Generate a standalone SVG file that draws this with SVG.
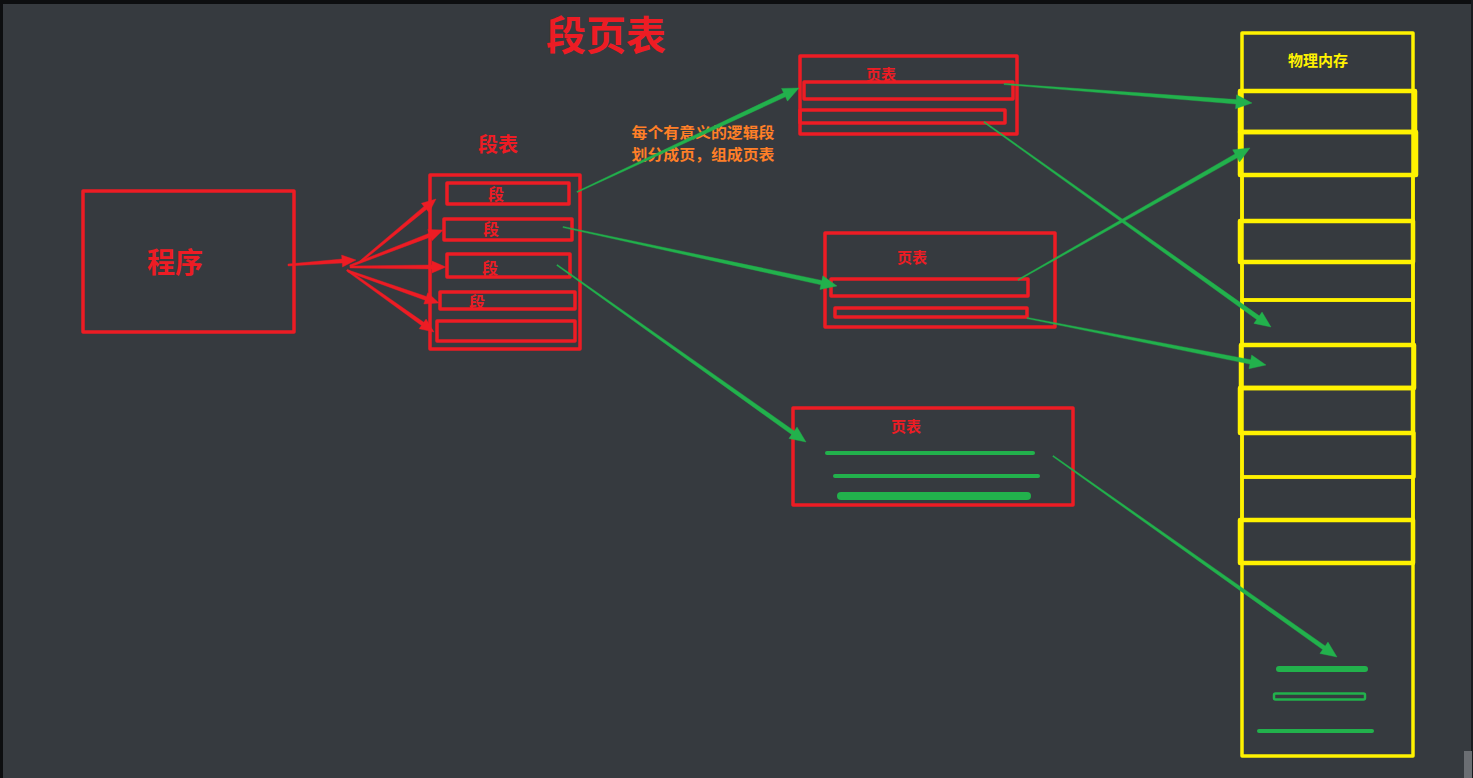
<svg xmlns="http://www.w3.org/2000/svg" width="1473" height="778" viewBox="0 0 1473 778">
<defs>
<style>
.bg{fill:#363a3f}
.r{fill:none;stroke:#ed1c24;stroke-width:3.5;stroke-linejoin:round}
.y{fill:none;stroke:#fff200;stroke-width:3.5;stroke-linejoin:round}
.y4{fill:none;stroke:#fff200;stroke-width:4.5;stroke-linejoin:round}
.t{font-family:"Noto Sans CJK SC","Noto Sans",sans-serif;font-weight:bold;text-anchor:middle;dominant-baseline:central}
.tr{fill:#ed1c24}
.ty{fill:#fff200}
.to{fill:#ff7f27}
.ga{fill:#22b14c;stroke:#22b14c;stroke-width:0.4;stroke-linejoin:round}
.ra{fill:#ed1c24;stroke:#ed1c24;stroke-width:0.4;stroke-linejoin:round}
.gbar{stroke:#22b14c;stroke-linecap:round}
</style>
</defs>
<rect class="bg" x="0" y="0" width="1473" height="778"/>
<rect x="0" y="0" width="1473" height="4" fill="#0d0e10"/>
<rect x="0" y="0" width="3" height="778" fill="#0d0e10"/>
<rect x="1471" y="0" width="2" height="778" fill="#1a1c1f"/>
<rect x="1464" y="751" width="8" height="27" fill="#6b6e73"/>

<text class="t tr" x="606" y="33" font-size="40">段页表</text>

<g id="program">
<rect class="r" x="83" y="191" width="211" height="141"/>
<text class="t tr" x="175" y="261" font-size="28">程序</text>
</g>

<g id="segment-table">
<text class="t tr" x="498" y="143" font-size="20">段表</text>
<rect class="r" x="430" y="175" width="150" height="174"/>
<rect class="r" x="447" y="183" width="122" height="21"/>
<text class="t tr" x="496" y="193" font-size="16">段</text>
<rect class="r" x="444" y="219" width="128" height="21"/>
<text class="t tr" x="491" y="228" font-size="16">段</text>
<rect class="r" x="447" y="254" width="123" height="23"/>
<text class="t tr" x="490" y="267" font-size="16">段</text>
<rect class="r" x="440" y="292" width="135" height="17"/>
<text class="t tr" x="477" y="301" font-size="16">段</text>
<rect class="r" x="437" y="321" width="138" height="20"/>
</g>

<g id="note">
<text class="t to" x="703" y="131" font-size="15" textLength="143" lengthAdjust="spacingAndGlyphs">每个有意义的逻辑段</text>
<text class="t to" x="703" y="153" font-size="15" textLength="143" lengthAdjust="spacingAndGlyphs">划分成页，组成页表</text>
</g>

<g id="page-table-1">
<rect class="r" x="800" y="56" width="217" height="78"/>
<text class="t tr" x="881" y="73" font-size="15">页表</text>
<rect class="r" x="804" y="82" width="209" height="17"/>
<rect class="r" x="800" y="110" width="205" height="13"/>
</g>

<g id="page-table-2">
<rect class="r" x="825" y="233" width="230" height="94"/>
<text class="t tr" x="912" y="256" font-size="15">页表</text>
<rect class="r" x="831" y="279" width="197" height="17"/>
<rect class="r" x="835" y="308" width="192" height="9"/>
</g>

<g id="page-table-3">
<rect class="r" x="793" y="408" width="280" height="97"/>
<text class="t tr" x="906" y="425" font-size="15">页表</text>
<line class="gbar" x1="827" y1="453" x2="1033" y2="453" stroke-width="4"/>
<line class="gbar" x1="835" y1="476" x2="1038" y2="476" stroke-width="4"/>
<line class="gbar" x1="841" y1="496" x2="1027" y2="496" stroke-width="8"/>
</g>

<g id="physical-memory">
<rect class="y" x="1242" y="33" width="171" height="723"/>
<text class="t ty" x="1318" y="59" font-size="15">物理内存</text>
<rect class="y4" x="1240" y="91" width="175" height="41"/>
<rect class="y4" x="1240" y="132" width="176" height="43"/>
<rect class="y" x="1242" y="175" width="171" height="46"/>
<rect class="y4" x="1240" y="221" width="173" height="41"/>
<rect class="y" x="1242" y="262" width="171" height="38"/>
<rect class="y" x="1242" y="300" width="171" height="45"/>
<rect class="y4" x="1241" y="345" width="173" height="43"/>
<rect class="y4" x="1240" y="388" width="173" height="45"/>
<rect class="y" x="1242" y="433" width="172" height="44"/>
<rect class="y" x="1242" y="477" width="171" height="43"/>
<rect class="y4" x="1240" y="520" width="173" height="43"/>
<line class="gbar" x1="1279" y1="669" x2="1365" y2="669" stroke-width="6"/>
<rect x="1274" y="693.5" width="91" height="6" rx="1.5" fill="none" stroke="#22b14c" stroke-width="2.5"/>
<line class="gbar" x1="1259" y1="731" x2="1372" y2="731" stroke-width="4"/>
</g>

<g id="connectors">
<polygon class="ra" points="288.07,266 342.19,263.02 342.48,267.01 356,260 341.6,255.05 341.89,259.04 287.93,264"/>
<polygon class="ra" points="360.64,262.77 426.5,209.47 429.05,212.55 436,199 421.39,203.31 423.94,206.39 359.36,261.23"/>
<polygon class="ra" points="350.36,266.93 430.66,236.92 432.11,240.65 443,230 427.77,229.45 429.22,233.18 349.64,265.07"/>
<polygon class="ra" points="350,268 432,269 432,273 446,267 432,261 432,265 350,266"/>
<polygon class="ra" points="347.67,271.94 425.13,300.25 423.8,304.02 439,303 427.78,292.7 426.45,296.47 348.33,270.06"/>
<polygon class="ra" points="346.42,270.81 421.44,325.5 419.12,328.76 434,332 426.08,318.98 423.76,322.24 347.58,269.19"/>

<polygon class="ga" points="577.25,192.54 785.46,96.83 787.48,101.13 799,88 781.54,88.45 783.56,92.75 576.75,191.46"/>
<polygon class="ga" points="562.87,227.59 820.89,284.83 819.89,289.47 837,286 822.83,275.79 821.83,280.43 563.13,226.41"/>
<polygon class="ga" points="556.65,265.49 791.66,434.56 788.9,438.44 806,442 797.02,427.02 794.26,430.9 557.35,264.51"/>
<polygon class="ga" points="1003.95,84.6 1235.88,104.02 1235.52,108.76 1252,103 1236.58,94.8 1236.22,99.54 1004.05,83.4"/>
<polygon class="ga" points="983.65,122.49 1256.67,319.53 1253.91,323.4 1271,327 1262.05,312 1259.29,315.87 984.35,121.51"/>
<polygon class="ga" points="1018.3,280.52 1237.2,157.87 1239.55,162 1250,148 1232.63,149.83 1234.98,153.95 1017.7,279.48"/>
<polygon class="ga" points="1026.88,318.59 1249.87,364.12 1248.95,368.78 1266,365 1251.65,355.04 1250.73,359.7 1027.12,317.41"/>
<polygon class="ga" points="1052.65,456.49 1322.64,649.6 1319.9,653.47 1337,657 1327.98,642.05 1325.24,645.92 1053.35,455.51"/>
</g>
</svg>
